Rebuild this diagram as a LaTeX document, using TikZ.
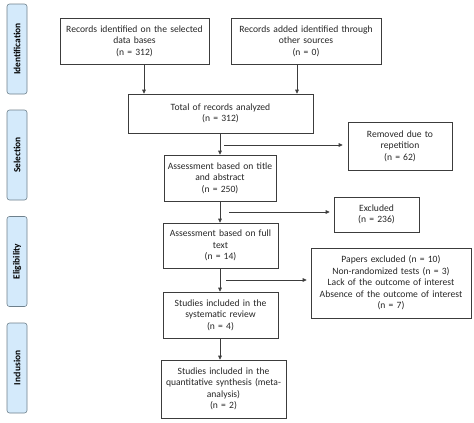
\documentclass[tikz,border=0pt]{standalone}
\usepackage{fontspec}
\setmainfont{Carlito}
\usetikzlibrary{arrows.meta}
\definecolor{stagefill}{RGB}{212,234,251}
\definecolor{stageline}{RGB}{110,128,140}
\definecolor{boxline}{RGB}{60,60,60}
\tikzset{
  box/.style 2 args={draw=boxline,text=black!85,line width=0.6pt,align=center,inner xsep=0pt,inner ysep=1pt,
    text width=#1pt,minimum height=#2pt,font=\fontsize{9.6}{11.5}\selectfont},
  stage/.style={draw=stageline,fill=stagefill,rounded corners=2.5pt,line width=0.6pt,rotate=90,
    minimum width=90pt,minimum height=20pt,inner sep=0pt,font=\fontsize{9.4}{10}\selectfont\bfseries},
  arr/.style={-{Triangle[length=4pt,width=3.6pt]},line width=0.6pt,draw=boxline},
}
\begin{document}
\begin{tikzpicture}[x=1pt,y=-1pt]
  \useasboundingbox (0,0) rectangle (474,423);
  % stages
  \foreach \y/\nm/\txt in {49/idf/Identification,155/sel/Selection,261.5/elg/Eligibility,368/inc/Inclusion}{
    \node[stage] (\nm) at (17,\y) {\txt};}
  % main boxes
  \node[box={149}{46}] (idA) at (134.5,41)
    {Records identified on the selected\\data bases\\(n = 312)};
  \node[box={150}{46}] (idB) at (306,41)
    {Records added identified through\\other sources\\(n = 0)};
  \node[box={185}{39}] (total) at (220.5,113.5)
    {Total of records analyzed\\(n = 312)};
  \node[box={112}{46}] (titabs) at (220,178)
    {Assessment based on title\\and abstract\\(n = 250)};
  \node[box={115}{45}] (fulltxt) at (220.5,245.5)
    {Assessment based on full\\text\\(n = 14)};
  \node[box={115}{46}] (sysrev) at (220.5,315)
    {Studies included in the\\systematic review\\(n = 4)};
  \node[box={125}{58}] (quant) at (223.5,389)
    {Studies included in the\\quantitative synthesis (meta-\\analysis)\\(n = 2)};
  % excluded boxes
  \node[box={104}{48}] (removed) at (400,146)
    {Removed due to\\repetition\\(n = 62)};
  \node[box={85}{35}] (excl) at (376.5,214.5)
    {Excluded\\(n = 236)};
  \node[box={160}{70}] (papers) at (391,283)
    {Papers excluded (n = 10)\\Non-randomized tests (n = 3)\\Lack of the outcome of interest\\Absence of the outcome of interest\\(n = 7)};
  % flow
  \draw[arr] ([xshift=9.5pt]idA.south) -- ([xshift=9.5pt]idA.south |- total.north);
  \draw[arr] ([xshift=-9pt]idB.south) -- ([xshift=-9pt]idB.south |- total.north);
  \draw[arr] (titabs.north |- total.south) -- (titabs.north);
  \draw[arr] (titabs.south) -- (titabs.south |- fulltxt.north);
  \draw[arr] (titabs.south |- fulltxt.south) -- (titabs.south |- sysrev.north);
  \draw[arr] (titabs.south |- sysrev.south) -- (titabs.south |- quant.north);
  % side arrows
  \coordinate (s1) at (224,145);
  \coordinate (s2) at (229,212);
  \coordinate (s3) at (226,280);
  \draw[arr,shorten >=5pt] (s1) -- (s1 -| removed.west);
  \draw[arr,shorten >=4pt] (s2) -- (s2 -| excl.west);
  \draw[arr,shorten >=4pt] (s3) -- (s3 -| papers.west);
\end{tikzpicture}
\end{document}
